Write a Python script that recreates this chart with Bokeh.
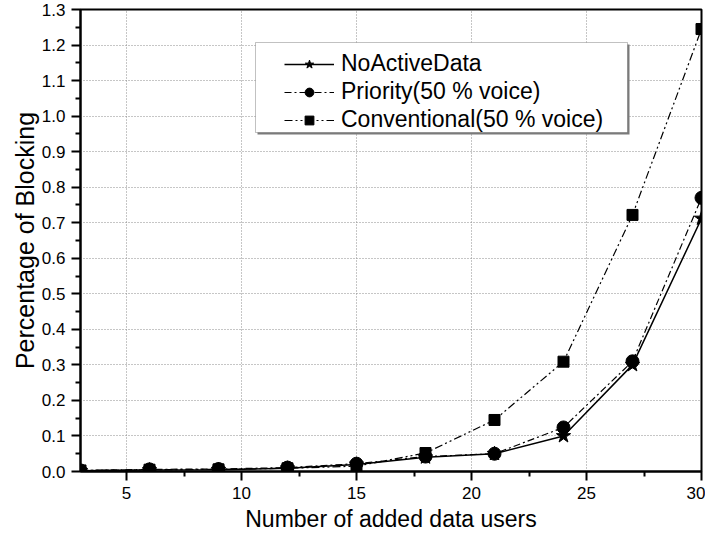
from bokeh.plotting import figure
from bokeh.models import (Legend, LegendItem, FixedTicker, PrintfTickFormatter,
                          Range1d, BoxAnnotation, Title)
from bokeh.embed import file_html
from bokeh.resources import INLINE

# ---- data ----
added_users = [3, 6, 9, 12, 15, 18, 21, 24, 27, 30]
no_active_data = [0.002, 0.004, 0.005, 0.009, 0.020, 0.040, 0.050, 0.100, 0.300, 0.712]
priority_50 = [0.003, 0.006, 0.007, 0.011, 0.022, 0.042, 0.050, 0.124, 0.310, 0.770]
conventional_50 = [0.003, 0.005, 0.006, 0.009, 0.015, 0.052, 0.145, 0.309, 0.722, 1.245]

series_labels = ["NoActiveData", "Priority(50 % voice)", "Conventional(50 % voice)"]
x_title = "Number of added data users"
y_title = "Percentage of Blocking"
x_ticks = [5, 10, 15, 20, 25, 30]
x_minor = [7.5, 12.5, 17.5, 22.5, 27.5]
y_ticks = [i / 10 for i in range(0, 14)]
y_minor = [i / 10 + 0.05 for i in range(0, 13)]

FONT = "Liberation Sans"

p = figure(width=705, height=536, output_backend="svg", toolbar_location=None,
           x_range=Range1d(3, 30), y_range=Range1d(0, 1.3),
           min_border_left=80, min_border_right=4, min_border_top=9, min_border_bottom=65,
           x_axis_label=x_title)

p.outline_line_color = "black"
p.outline_line_width = 2
p.background_fill_color = "white"
p.border_fill_color = "white"

for ax in (p.xaxis[0], p.yaxis[0]):
    ax.axis_line_width = 2
    ax.major_tick_line_width = 2
    ax.minor_tick_line_width = 2
    ax.major_tick_in = 0
    ax.major_tick_out = 9
    ax.minor_tick_in = 0
    ax.minor_tick_out = 5
    ax.major_label_text_font = FONT
    ax.major_label_text_font_size = "17px"
    ax.major_label_text_color = "black"
    ax.axis_label_text_font = FONT
    ax.axis_label_text_font_size = "23px"
    ax.axis_label_text_font_style = "normal"
    ax.axis_label_text_color = "black"

p.xaxis[0].ticker = FixedTicker(ticks=x_ticks, minor_ticks=x_minor)
p.yaxis[0].ticker = FixedTicker(ticks=y_ticks, minor_ticks=y_minor)
p.yaxis[0].formatter = PrintfTickFormatter(format="%.1f")
p.xaxis[0].major_label_standoff = 6
p.xaxis[0].axis_label_standoff = 4
p.yaxis[0].major_label_standoff = 6

# y-axis title as a side title, shifted up like in the original
ytitle = Title(text=y_title, align="center", offset=29, standoff=0,
               text_font=FONT, text_font_size="25px", text_font_style="normal",
               text_color="black")
p.add_layout(ytitle, "left")

for g in (p.xgrid[0], p.ygrid[0]):
    g.grid_line_color = "#8c8c8c"
    g.grid_line_dash = "1 2"
    g.grid_line_width = 1

# ---- series ----
l1 = p.line(added_users, no_active_data, line_color="black", line_width=1.5)
m1 = p.scatter(added_users, no_active_data, marker="star", size=15, color="black")
l2 = p.line(added_users, priority_50, line_color="black", line_width=1.2, line_dash="7 3 2 3")
m2 = p.scatter(added_users, priority_50, marker="circle", size=13, color="black")
l3 = p.line(added_users, conventional_50, line_color="black", line_width=1.2, line_dash="8 3 2 3 2 3")
m3 = p.scatter(added_users, conventional_50, marker="square", size=11, color="black")

# ---- legend box with shadow ----
shadow = BoxAnnotation(left=177, right=549, bottom=337, top=427,
                       left_units="screen", right_units="screen",
                       bottom_units="screen", top_units="screen",
                       fill_color="#7a7a7a", fill_alpha=1, line_color=None)
box = BoxAnnotation(left=175, right=547, bottom=339, top=429,
                    left_units="screen", right_units="screen",
                    bottom_units="screen", top_units="screen",
                    fill_color="white", fill_alpha=1, line_color="#333333", line_width=1)
p.add_layout(shadow)
p.add_layout(box)

legend = Legend(items=[
    LegendItem(label=series_labels[0], renderers=[l1, m1]),
    LegendItem(label=series_labels[1], renderers=[l2, m2]),
    LegendItem(label=series_labels[2], renderers=[l3, m3]),
], location=(204, 338), orientation="vertical")
legend.margin = 0
legend.padding = 0
legend.spacing = 1
legend.glyph_width = 50
legend.glyph_height = 22
legend.label_height = 22
legend.label_standoff = 7
legend.label_text_font = FONT
legend.label_text_font_size = "23px"
legend.label_text_color = "black"
legend.border_line_color = None
legend.background_fill_alpha = 0
p.add_layout(legend)

open("out.html", "w").write(file_html(p, INLINE))
